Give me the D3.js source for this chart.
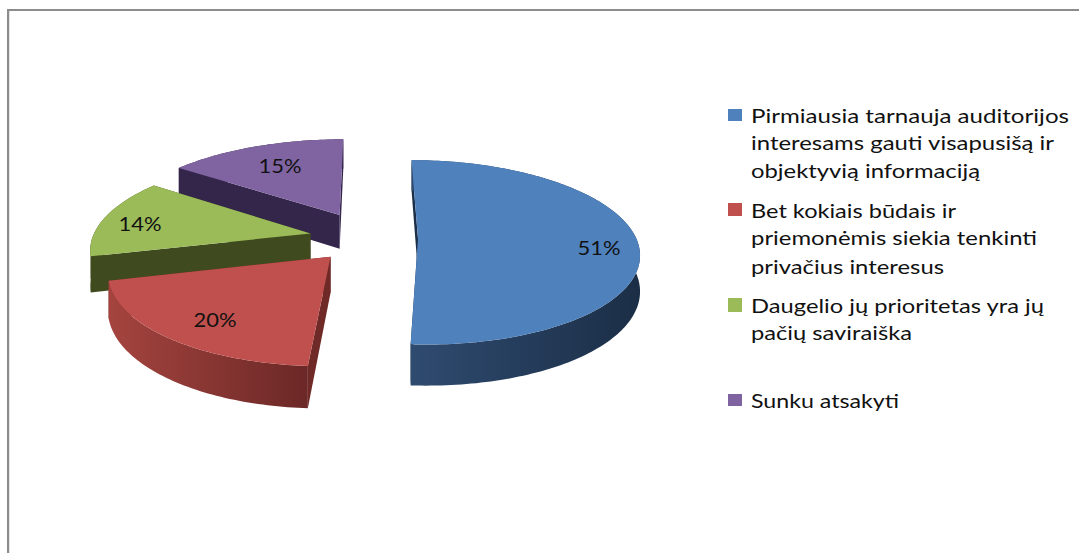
<!DOCTYPE html>
<html>
<head>
<meta charset="utf-8">
<script src="https://cdnjs.cloudflare.com/ajax/libs/d3/7.8.5/d3.min.js"></script>
<style>
  html, body { margin: 0; padding: 0; background: #fff; }
  svg { display: block; }
  text { font-family: Lato, "Open Sans", sans-serif; fill: #111; }
</style>
</head>
<body>
<div id="one"></div>
<script>
// chart values
const categories = [
  ["Pirmiausia tarnauja auditorijos", "interesams gauti visapusišą ir", "objektyvią informaciją"],
  ["Bet kokiais būdais ir", "priemonėmis siekia tenkinti", "privačius interesus"],
  ["Daugelio jų prioritetas yra jų", "pačių saviraiška"],
  ["Sunku atsakyti"]
]
const values = [51, 20, 14, 15]
const valueLabels = ["51%", "20%", "14%", "15%"]

// colours, top face / side wall / curved wall left+right
const topColors = ["#4f81bd", "#c0504d", "#9bbb59", "#8064a2"]
const wallColors = ["#1b2f48", "#6f2a28", "#3f4a1e", "#33264a"]
const arcColors = [["#2f4b70", "#1b2e46"], ["#a5443f", "#6b2826"], ["#3f4a1e", "#3f4a1e"], ["#33264a", "#33264a"]]

// how the pie sits on the page
const centerX = 368, centerY = 238
const radiusX = 217, radiusY = 89.5
const persp = 0.1475
const depth = 35
const explode = [50, 57, 59, 65]
const grow = [1.005, 0.98, 1.005, 1.05]

// label and legend layout
const labelPos = [[599, 255], [215, 327], [140, 231], [280, 173]]
const legendBase = [[123, 150, 178], [218, 245, 274], [313, 340], [408]]
const legendLen = [[318, 303, 229], [205, 286, 193], [293, 161], [148]]
const swatchY = [[109, 121], [203, 216], [298, 312], [394, 406]]

const svg = d3.select("#one").append("svg")
  .attr("width", 1079)
  .attr("height", 553)

// outer frame, only top and left show
svg.append("rect").attr("x", 7).attr("y", 9).attr("width", 1072).attr("height", 2).attr("fill", "#8c8c8c")
svg.append("rect").attr("x", 7).attr("y", 9).attr("width", 2).attr("height", 544).attr("fill", "#8c8c8c")
svg.append("rect").attr("x", 9).attr("y", 11).attr("width", 1).attr("height", 542).attr("fill", "#e4e4e4")

const pie = d3.pie().sort(null).value(d => d)
const slices = pie(values)
const line = d3.line()

// ground plane (u across, v away from viewer) to the page
function project(u, v, drop) {
  let p = 1 / (1 + persp * v)
  return [centerX + radiusX * u * p, centerY - radiusY * v * p + drop * p]
}

function shapes(s, i) {
  let mid = (s.startAngle + s.endAngle) / 2
  let offU = explode[i] * Math.sin(mid) / radiusX
  let offV = explode[i] * Math.cos(mid) / radiusX
  let n = Math.ceil((s.endAngle - s.startAngle) / 0.02)
  let angles = d3.range(n + 1).map(j => s.startAngle + (s.endAngle - s.startAngle) * j / n)
  let rim = angles.map(a => [grow[i] * Math.sin(a) + offU, grow[i] * Math.cos(a) + offV])
  let apex = [offU, offV]
  return {
    topRim: rim.map(d => project(d[0], d[1], 0)),
    lowRim: rim.map(d => project(d[0], d[1], depth)),
    apexTop: project(apex[0], apex[1], 0),
    apexLow: project(apex[0], apex[1], depth)
  }
}

const defs = svg.append("defs")
const pieG = svg.append("g")

// painted back to front
d3.range(values.length).reverse().forEach(i => {
  let sh = shapes(slices[i], i)
  let g = pieG.append("g")
  let xs = d3.extent(sh.topRim, d => d[0])

  let grad = defs.append("linearGradient")
    .attr("id", "arc" + i)
    .attr("gradientUnits", "userSpaceOnUse")
    .attr("x1", xs[0]).attr("x2", xs[1])
    .attr("y1", 0).attr("y2", 0)
  grad.append("stop").attr("offset", 0).attr("stop-color", arcColors[i][0])
  grad.append("stop").attr("offset", 1).attr("stop-color", arcColors[i][1])

  let first = sh.topRim[0], last = sh.topRim[sh.topRim.length - 1]
  let firstLow = sh.lowRim[0], lastLow = sh.lowRim[sh.lowRim.length - 1]

  // two cut walls
  g.append("path").attr("d", line([sh.apexTop, first, firstLow, sh.apexLow]) + "Z").attr("fill", wallColors[i])
  g.append("path").attr("d", line([sh.apexTop, last, lastLow, sh.apexLow]) + "Z").attr("fill", wallColors[i])
  // curved wall
  g.append("path")
    .attr("d", line(sh.topRim.concat(sh.lowRim.slice().reverse())) + "Z")
    .attr("fill", "url(#arc" + i + ")")
  // top face
  g.append("path")
    .attr("d", line([sh.apexTop].concat(sh.topRim)) + "Z")
    .attr("fill", topColors[i])
})

svg.append("g").selectAll("text")
  .data(valueLabels)
  .join("text")
  .attr("x", (d, i) => labelPos[i][0])
  .attr("y", (d, i) => labelPos[i][1])
  .attr("text-anchor", "middle")
  .attr("font-size", 19)
  .attr("textLength", 43)
  .attr("lengthAdjust", "spacingAndGlyphs")
  .text(d => d)

const legend = svg.append("g")
categories.forEach((lines, i) => {
  legend.append("rect")
    .attr("x", 728)
    .attr("y", swatchY[i][0])
    .attr("width", 14)
    .attr("height", swatchY[i][1] - swatchY[i][0])
    .attr("fill", topColors[i])
  lines.forEach((t, j) => {
    legend.append("text")
      .attr("x", 751)
      .attr("y", legendBase[i][j])
      .attr("font-size", 19)
      .attr("textLength", legendLen[i][j])
      .attr("lengthAdjust", "spacingAndGlyphs")
      .text(t)
  })
})
</script>
</body>
</html>
